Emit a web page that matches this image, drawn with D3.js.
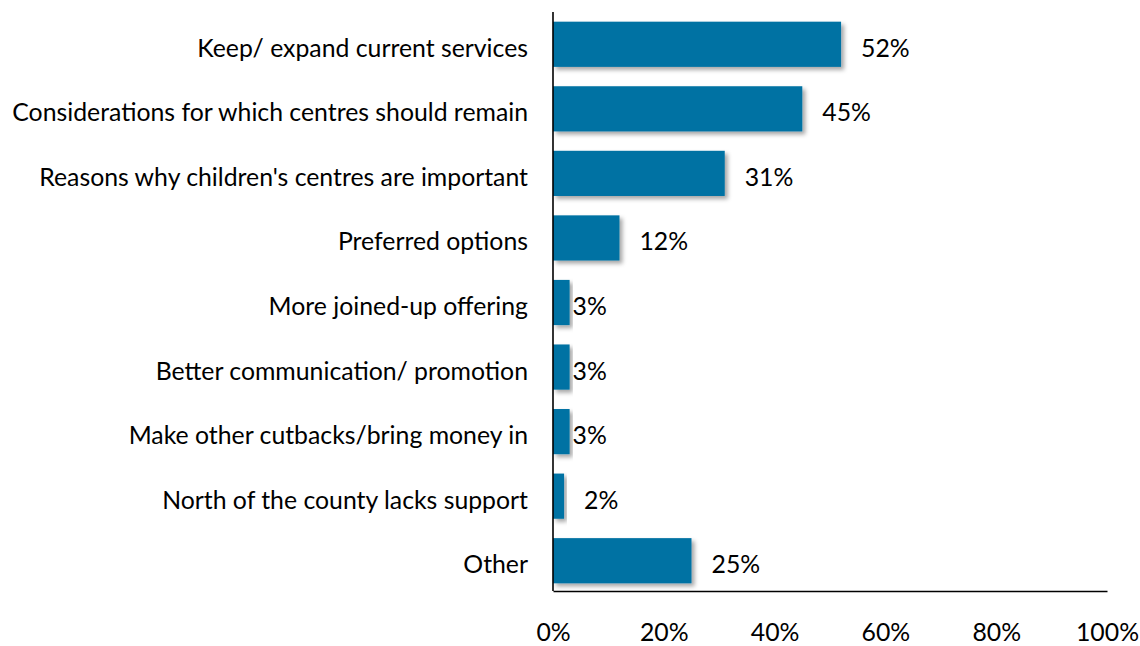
<!DOCTYPE html>
<html>
<head>
<meta charset="utf-8">
<script src="https://cdn.jsdelivr.net/npm/d3@7"></script>
<style>
  html, body { margin: 0; padding: 0; background: #fff; }
  svg { display: block; }
  text { font-family: Lato, "Open Sans", sans-serif; fill: #000; }
</style>
</head>
<body>
<svg id="chart" width="1140" height="646"></svg>
<script>
// Share of responses by theme
const categories = [
  "Keep/ expand current services",
  "Considerations for which centres should remain",
  "Reasons why children's centres are important",
  "Preferred options",
  "More joined-up offering",
  "Better communication/ promotion",
  "Make other cutbacks/bring money in",
  "North of the county lacks support",
  "Other"
];
const values = [52, 45, 31, 12, 3, 3, 3, 2, 25];
const tickValues = [0, 20, 40, 60, 80, 100];

const svg = d3.select("#chart");
const plotLeft = 553, plotRight = 1107, plotTop = 12, plotBottom = 591;

const x = d3.scaleLinear().domain([0, 100]).range([plotLeft, plotRight]);
const y = d3.scaleBand().domain(categories).range([plotTop, 593])
  .paddingInner(0.3).paddingOuter(0.15);

// Soft drop shadow under the bars
const defs = svg.append("defs");
const f = defs.append("filter").attr("id", "shadow")
  .attr("x", "-10%").attr("y", "-20%").attr("width", "130%").attr("height", "160%");
f.append("feDropShadow").attr("dx", 3).attr("dy", 3).attr("stdDeviation", 2)
  .attr("flood-color", "#000").attr("flood-opacity", 0.35);

// Fit the font size so the longest category label spans the left margin
const probe = svg.append("text").attr("font-size", 20).text(categories[1]);
const w20 = probe.node().getComputedTextLength();
probe.remove();
const fs = 20 * 516 / w20;
const baselineShift = 12.5; // text baseline below the band centre

const rows = categories.map((c, i) => ({ c, v: values[i] }));

svg.append("g").selectAll("rect").data(rows).join("rect")
  .attr("x", x(0))
  .attr("y", d => y(d.c))
  .attr("width", d => x(d.v) - x(0))
  .attr("height", y.bandwidth())
  .attr("fill", "#0072A3")
  .attr("filter", "url(#shadow)");

// Category labels
svg.append("g").selectAll("text").data(rows).join("text")
  .attr("x", plotLeft - 25)
  .attr("y", d => y(d.c) + y.bandwidth() / 2 + baselineShift)
  .attr("text-anchor", "end")
  .attr("font-size", fs)
  .text(d => d.c);

// Value labels; the three 3% labels sit right against their bars
const tight = new Set(["More joined-up offering", "Better communication/ promotion", "Make other cutbacks/bring money in"]);
svg.append("g").selectAll("text").data(rows).join("text")
  .attr("x", d => x(d.v) + (tight.has(d.c) ? 3 : 20))
  .attr("y", d => y(d.c) + y.bandwidth() / 2 + baselineShift)
  .attr("font-size", fs)
  .text(d => d.v + "%");

// Axes
const xAxis = d3.axisBottom(x).tickValues(tickValues).tickSize(0)
  .tickFormat(d => d + "%");
const gx = svg.append("g").attr("transform", `translate(0,${plotBottom})`).call(xAxis);
gx.select(".domain").attr("stroke", "#000").attr("stroke-width", 1.6);
gx.selectAll(".tick text")
  .attr("y", 50).attr("dy", null)
  .attr("font-size", fs)
  .style("font-family", "Lato, 'Open Sans', sans-serif")
  .style("fill", "#000");

svg.append("line")
  .attr("x1", plotLeft).attr("x2", plotLeft).attr("y1", plotTop).attr("y2", plotBottom)
  .attr("stroke", "#000").attr("stroke-width", 1.6);
</script>
</body>
</html>
